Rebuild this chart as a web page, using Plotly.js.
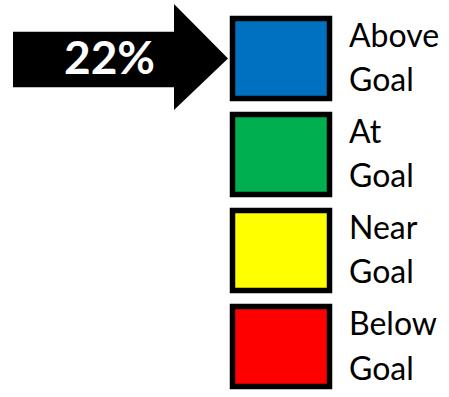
<!DOCTYPE html>
<html>
<head>
<meta charset="utf-8">
<script src="https://cdn.plot.ly/plotly-3.0.1.min.js"></script>
<style>
  html, body { margin: 0; padding: 0; background: #ffffff; }
  #chart { width: 449px; height: 397px; }
</style>
</head>
<body>
<div id="chart"></div>
<script>
// ---- data ----
var categories = ['Above Goal', 'At Goal', 'Near Goal', 'Below Goal'];
var boxValues = [1, 1, 1, 1];
var boxColors = ['#0070C0', '#00B050', '#FFFF00', '#FF0000'];
var highlightCategory = 'Above Goal';
var highlightPercent = 22;

// ---- chart ----
var hiIndex = categories.indexOf(highlightCategory);

var boxes = {
  type: 'bar',
  orientation: 'h',
  y: categories,
  x: boxValues,
  width: 0.833,
  marker: {
    color: boxColors,
    line: { color: '#000000', width: 5.5 }
  },
  hoverinfo: 'skip'
};

var annotations = [];
categories.forEach(function (cat) {
  var parts = cat.split(' ');
  annotations.push({
    xref: 'x', yref: 'y', x: 1, y: cat,
    xanchor: 'left', yanchor: 'middle',
    xshift: 17, yshift: 24,
    text: parts[0], showarrow: false,
    font: { family: 'Lato, sans-serif', size: 32, color: '#000000' }
  });
  annotations.push({
    xref: 'x', yref: 'y', x: 1, y: cat,
    xanchor: 'left', yanchor: 'middle',
    xshift: 17, yshift: -20.5,
    text: parts.slice(1).join(' '), showarrow: false,
    font: { family: 'Lato, sans-serif', size: 32, color: '#000000' }
  });
});
annotations.push({
  xref: 'x', yref: 'y', x: 0, y: hiIndex,
  xanchor: 'center', yanchor: 'middle',
  xshift: -123.5, yshift: 2,
  text: '<b>' + highlightPercent + '%</b>', showarrow: false,
  font: { family: 'Lato, sans-serif', size: 46, color: '#ffffff' }
});

var layout = {
  width: 449, height: 397,
  margin: { l: 0, r: 0, t: 0, b: 0, pad: 0 },
  paper_bgcolor: '#ffffff', plot_bgcolor: '#ffffff',
  showlegend: false, hovermode: false,
  xaxis: { range: [-2.397, 2.232], visible: false, fixedrange: true },
  yaxis: { type: 'category', range: [3.526, -0.609], visible: false, fixedrange: true },
  shapes: [{
    type: 'path',
    xref: 'x', yref: 'y',
    xsizemode: 'pixel', ysizemode: 'pixel',
    xanchor: 0, yanchor: hiIndex,
    path: 'M -219.5 26.8 L -58.5 26.8 L -58.5 54.5 L -4.5 0 L -58.5 -51.5 L -58.5 -28.8 L -219.5 -28.8 Z',
    fillcolor: '#000000',
    line: { width: 0 }
  }],
  annotations: annotations
};

Plotly.newPlot('chart', [boxes], layout, { displayModeBar: false, staticPlot: true });
</script>
</body>
</html>
